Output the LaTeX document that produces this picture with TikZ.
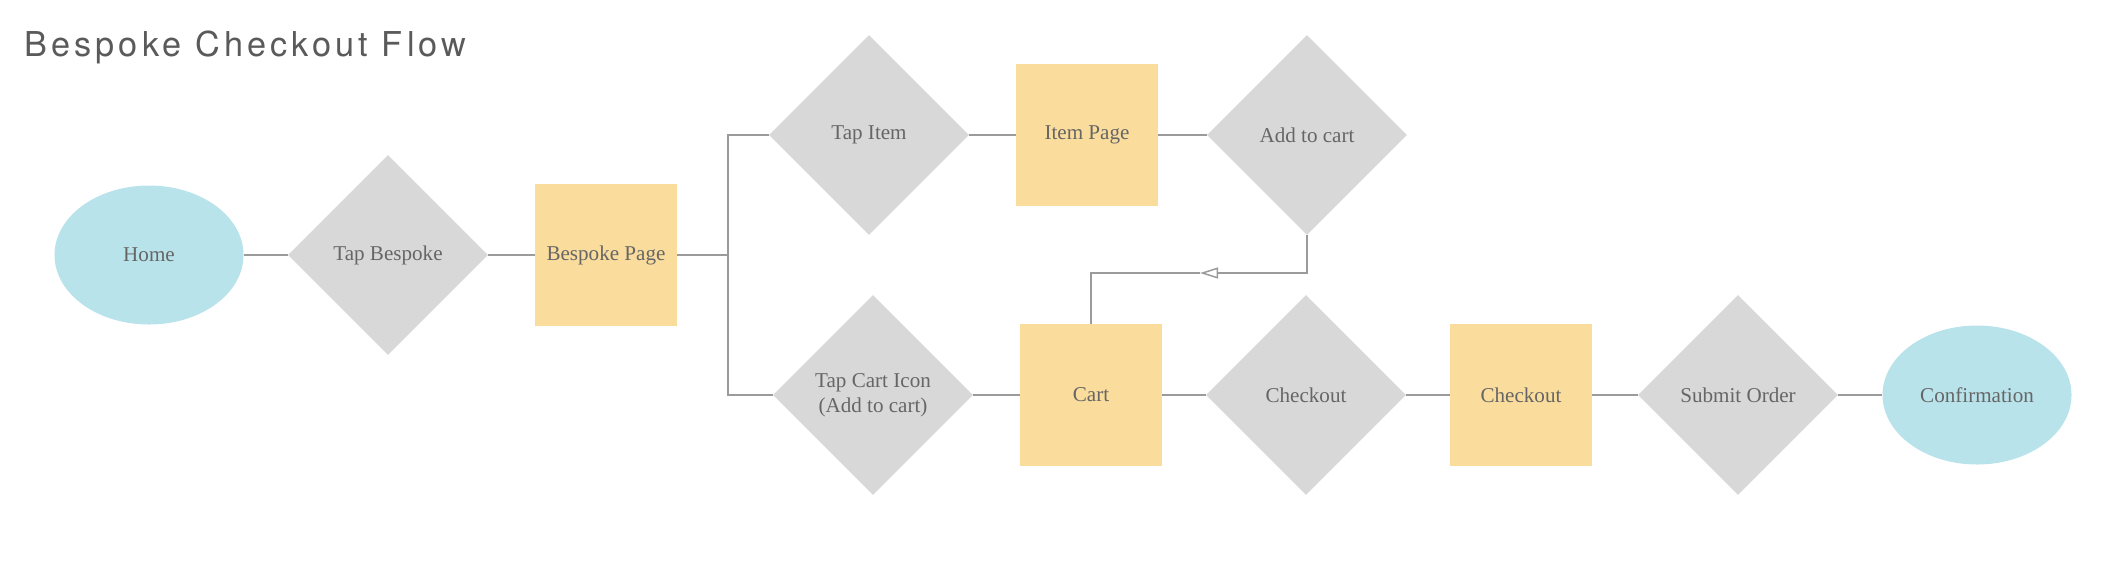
\documentclass[tikz,border=0pt]{standalone}
\usepackage{fontspec}
\setmainfont{Liberation Serif}
\newfontfamily\titlefont{TeX Gyre Heros}[LetterSpace=12]
\usetikzlibrary{shapes.geometric,arrows.meta}

\definecolor{homecyan}{HTML}{B8E3EA}
\definecolor{stepgray}{HTML}{D8D8D8}
\definecolor{pageyellow}{HTML}{FADC9C}
\definecolor{linegray}{HTML}{9B9B9B}
\definecolor{textgray}{HTML}{666666}
\definecolor{titlegray}{HTML}{5A5A5A}

\tikzset{
    terminal/.style={ellipse, fill=homecyan, minimum width=37.8mm, minimum height=27.8mm, inner sep=0pt},
    action/.style={diamond, fill=stepgray, minimum size=40mm, inner sep=0pt, align=center},
    page/.style={rectangle, fill=pageyellow, minimum size=28.4mm, inner sep=0pt},
    link/.style={draw=linegray, line width=0.3mm},
}

\begin{document}
\begin{tikzpicture}[x=0.2mm, y=-0.2mm, every node/.style={text=textgray, font=\fontsize{12}{14}\selectfont}]
    \useasboundingbox (0,0) rectangle (2122,560);
    \node[anchor=base west, inner sep=0pt, text=titlegray, font=\titlefont\fontsize{19.5}{23}\selectfont]
        (title) at (24,56) {Bespoke Checkout Flow};

    % main row
    \node[terminal] (home) at (149,255) {Home};
    \node[action] (tapbespoke) at (388,255) {Tap Bespoke};
    \node[page] (bespokepage) at (606,255) {Bespoke Page};
    \coordinate (fork) at (728,255);

    % top branch
    \node[action] (tapitem) at (869,135) {Tap Item};
    \node[page] (itempage) at (1087,135) {Item Page};
    \node[action] (addcart) at (1307,135) {Add to cart};
    \coordinate (loop) at (1200,273);

    % bottom branch
    \node[action] (tapcart) at (873,395) {Tap Cart Icon\\(Add to cart)};
    \node[page] (cart) at (1091,395) {Cart};
    \node[action] (checkoutstep) at (1306,395) {Checkout};
    \node[page] (checkoutpage) at (1521,395) {Checkout};
    \node[action] (submit) at (1738,395) {Submit Order};
    \node[terminal] (confirm) at (1977,395) {Confirmation};

    \foreach \a/\b in {home/tapbespoke, tapbespoke/bespokepage, bespokepage/fork,
        tapitem/itempage, itempage/addcart, tapcart/cart, cart/checkoutstep,
        checkoutstep/checkoutpage, checkoutpage/submit, submit/confirm} {
        \draw[link] (\a) -- (\b);
    }
    \draw[link] (fork) |- (tapitem);
    \draw[link] (fork) |- (tapcart);
    \draw[link, -{Triangle[open, length=3.6mm, width=2.2mm]}] (addcart) |- (loop);
    \draw[link] (loop) -| (cart);
\end{tikzpicture}
\end{document}
